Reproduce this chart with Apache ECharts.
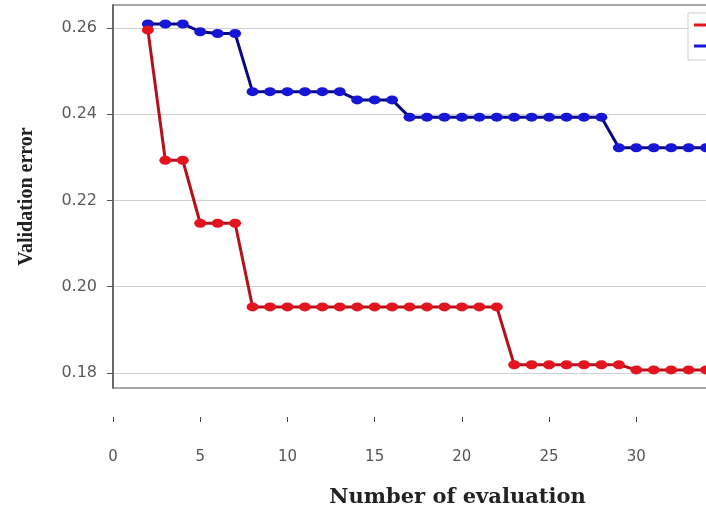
<!DOCTYPE html>
<html>
<head>
<meta charset="utf-8">
<script src="https://cdn.jsdelivr.net/npm/echarts@6/dist/echarts.min.js"></script>
<style>
html,body{margin:0;padding:0;background:#fff;}
#chart{width:706px;height:512px;}
</style>
</head>
<body>
<div id="chart"></div>
<script>
var evaluations = [2,3,4,5,6,7,8,9,10,11,12,13,14,15,16,17,18,19,20,21,22,23,24,25,26,27,28,29,30,31,32,33,34];
var redValues = [0.2595,0.2293,0.2293,0.2147,0.2147,0.2147,
  0.1953,0.1953,0.1953,0.1953,0.1953,0.1953,0.1953,0.1953,0.1953,0.1953,0.1953,0.1953,0.1953,0.1953,0.1953,
  0.1819,0.1819,0.1819,0.1819,0.1819,0.1819,0.1819,
  0.1807,0.1807,0.1807,0.1807,0.1807];
var blueValues = [0.2609,0.2609,0.2609,0.2591,0.2587,0.2587,
  0.2452,0.2452,0.2452,0.2452,0.2452,0.2452,
  0.2433,0.2433,0.2433,
  0.2393,0.2393,0.2393,0.2393,0.2393,0.2393,0.2393,0.2393,0.2393,0.2393,0.2393,0.2393,
  0.2322,0.2322,0.2322,0.2322,0.2322,0.2322];
var yTicks = [0.18,0.20,0.22,0.24,0.26];
var seriesNames = ['Proposed method','Random search'];

function pairs(xs, ys){ return xs.map(function(x,i){ return [x, ys[i]]; }); }

var chart = echarts.init(document.getElementById('chart'), null, {renderer:'canvas'});
chart.setOption({
  animation:false,
  backgroundColor:'#fff',
  grid:{left:113, top:5, width:689, height:383, show:true, borderColor:'#8a8a8a', borderWidth:1.5,
    backgroundColor:'#fff', containLabel:false, outerBoundsMode:'none'},
  legend:{
    left:688, top:13, orient:'vertical', itemGap:9, itemWidth:28, itemHeight:3, icon:'rect',
    padding:[6,6,8,6], backgroundColor:'#fff', borderColor:'#cfcfcf', borderWidth:1,
    textStyle:{fontFamily:'DejaVu Sans', fontSize:12, color:'#333'},
    data:seriesNames
  },
  xAxis:{
    type:'value', min:0, max:39.5, interval:5, offset:29,
    axisLine:{show:false},
    axisTick:{show:true, length:5, lineStyle:{color:'#444', width:1}},
    axisLabel:{margin:33, fontFamily:'DejaVu Sans', fontSize:15, color:'#555', showMaxLabel:false},
    splitLine:{show:false},
    name:'Number of evaluation', nameLocation:'middle', nameGap:70,
    nameTextStyle:{fontFamily:'DejaVu Serif', fontWeight:'bold', fontSize:21, color:'#222'}
  },
  yAxis:{
    type:'value', min:0.1765, max:0.2653, splitNumber:5,
    axisLine:{show:true, lineStyle:{color:'#555', width:1.5}},
    axisTick:{show:true, length:6, customValues:yTicks, lineStyle:{color:'#555', width:1}},
    axisLabel:{margin:16, customValues:yTicks, fontFamily:'DejaVu Sans', fontSize:16, color:'#5a5a5a',
      formatter:function(v){ return v.toFixed(2); }},
    splitLine:{show:true, lineStyle:{color:'#d0d0d0', width:1.2}},
    name:'Validation error', nameLocation:'middle', nameGap:76,
    nameTextStyle:{fontFamily:'Liberation Serif', fontWeight:'bold', fontSize:20, color:'#222'}
  },
  series:[
    {
      name:seriesNames[0], type:'line', data:pairs(evaluations, redValues),
      symbol:'circle', symbolSize:[12,9], showSymbol:true,
      lineStyle:{color:'#b3121c', width:3},
      itemStyle:{color:'#e3141e'},
      z:3
    },
    {
      name:seriesNames[1], type:'line', data:pairs(evaluations, blueValues),
      symbol:'circle', symbolSize:[12,9], showSymbol:true,
      lineStyle:{color:'#0a0a80', width:3},
      itemStyle:{color:'#1616d6'},
      z:2
    }
  ]
});
</script>
</body>
</html>
